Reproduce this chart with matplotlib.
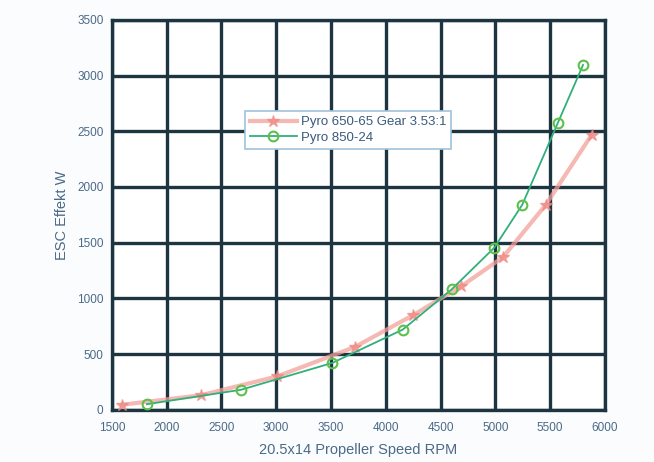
import matplotlib
matplotlib.use("Agg")
import matplotlib.pyplot as plt

# Data
rpm_gear = [1590, 2310, 3010, 3720, 4250, 4690, 5070, 5460, 5880]
w_gear = [45, 130, 300, 565, 850, 1110, 1370, 1840, 2470]
rpm_direct = [1820, 2680, 3510, 4155, 4600, 4990, 5245, 5570, 5800]
w_direct = [50, 180, 420, 720, 1080, 1455, 1840, 2575, 3095]
label_gear = "Pyro 650-65 Gear 3.53:1"
label_direct = "Pyro 850-24"
xticks = [1500, 2000, 2500, 3000, 3500, 4000, 4500, 5000, 5500, 6000]
yticks = [0, 500, 1000, 1500, 2000, 2500, 3000, 3500]

plt.rcParams['font.family'] = ['Liberation Sans', 'DejaVu Sans']
fig = plt.figure(figsize=(6.54, 4.62), dpi=100, facecolor='#fbfcfd')
ax = fig.add_axes([0.171, 0.113, 0.754, 0.844])
ax.set_facecolor('white')

gridc = '#1d3540'
ax.set_xlim(1500, 6000)
ax.set_ylim(0, 3500)
ax.set_xticks(xticks)
ax.set_yticks(yticks)
ax.grid(True, color=gridc, linewidth=2.4, zorder=0)
ax.set_axisbelow(True)
for s in ax.spines.values():
    s.set_color(gridc)
    s.set_linewidth(2.4)

ax.plot(rpm_gear, w_gear, color='#f4a09a', alpha=0.75, linewidth=3, marker='*',
        markersize=9, markerfacecolor='#f08a84', markeredgecolor='#f08a84',
        label=label_gear, zorder=3)
ax.plot(rpm_direct, w_direct, color='#2fb07a', linewidth=1.3, marker='o',
        markersize=7, markerfacecolor='none', markeredgecolor='#5cc04a',
        markeredgewidth=1.5, label=label_direct, zorder=4)

tickc = '#4a6a88'
ax.tick_params(axis='both', colors=tickc, labelsize=8.5, length=0)
ax.tick_params(axis='x', pad=9)
ax.tick_params(axis='y', pad=6)
ax.set_xlabel("20.5x14 Propeller Speed RPM", color='#4a6a88', fontsize=10.5, labelpad=6)
ax.set_ylabel("ESC Effekt W", color='#4a6a88', fontsize=10.5, labelpad=6)

leg = ax.legend(loc='upper left', bbox_to_anchor=(0.27, 0.765), fontsize=9.5,
                frameon=True, fancybox=False, borderpad=0.35, handlelength=3.6,
                handletextpad=0.3, labelspacing=0.25, borderaxespad=0)
leg.get_frame().set_edgecolor('#9ec3dd')
leg.get_frame().set_linewidth(1.2)
leg.get_frame().set_facecolor('white')
leg.get_frame().set_alpha(1)
for t in leg.get_texts():
    t.set_color('#3a5a7a')

fig.savefig("out.png", dpi=100, facecolor=fig.get_facecolor())
